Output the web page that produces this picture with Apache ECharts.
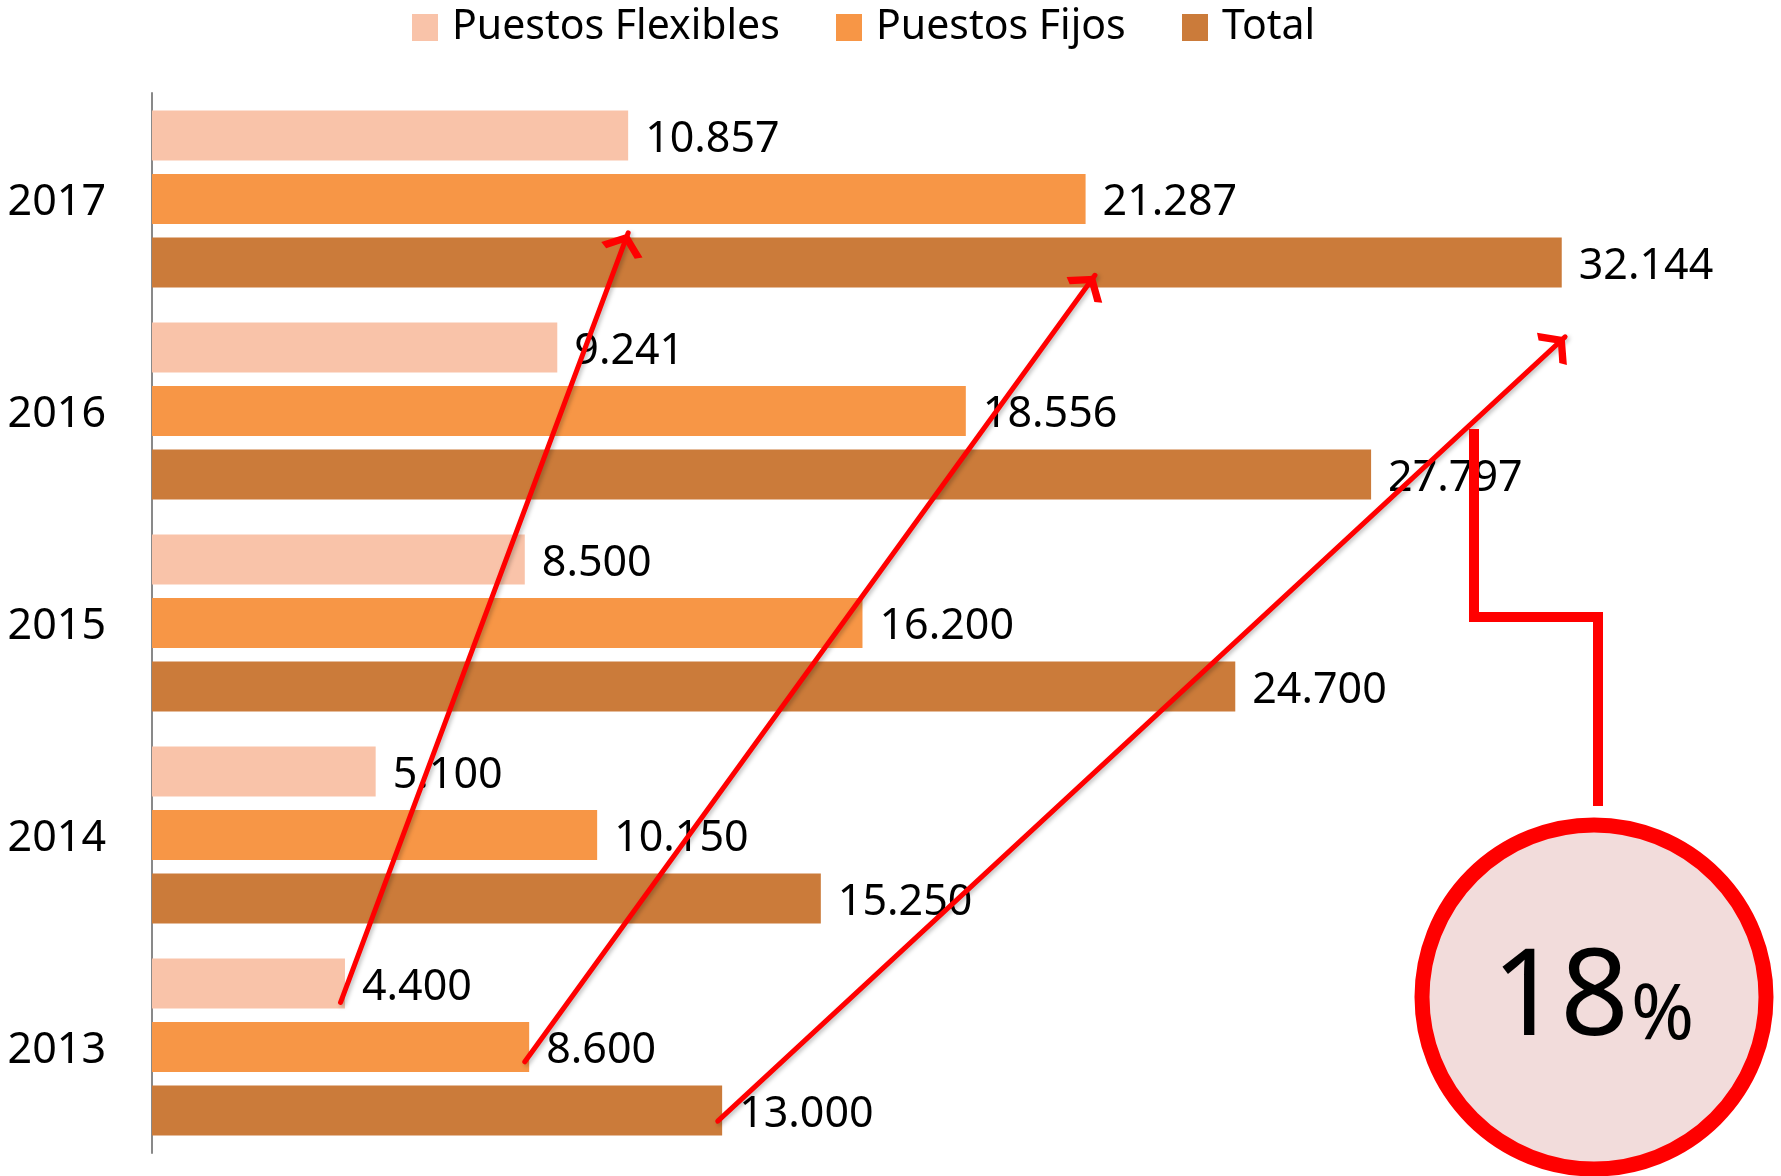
<!DOCTYPE html>
<html>
<head>
<meta charset="utf-8">
<title>Puestos</title>
<script src="https://cdn.jsdelivr.net/npm/echarts@6/dist/echarts.min.js"></script>
<style>
  html, body { margin: 0; padding: 0; background: #fff; }
  #chart { width: 1781px; height: 1176px; }
</style>
</head>
<body>
<div id="chart"></div>
<script>
const years = ['2013', '2014', '2015', '2016', '2017']
const seriesNames = ['Puestos Flexibles', 'Puestos Fijos', 'Total']
const flexibles = [4400, 5100, 8500, 9241, 10857]
const fijos = [8600, 10150, 16200, 18556, 21287]
const total = [13000, 15250, 24700, 27797, 32144]
const growthText = '18'

// arrows: from the 2013 bar end to the 2017 value (row positions in category units)
const arrowStartRow = [0.71, 0.43, 0.15]
const arrowEndRow = [4.34, 4.14, 3.85]
const arrowEndX = [10857, 21500, 32220]

const colors = ['#F9C3A9', '#F79646', '#CB7B3A']
const font = 'Noto Sans'
const fmt = v => String(v).replace(/\B(?=(\d{3})+(?!\d))/g, '.')

const allValues = [flexibles, fijos, total]
const arrows = allValues.map((vals, i) => ({
  coords: [[vals[0] - 100, arrowStartRow[i]], [arrowEndX[i], arrowEndRow[i]]]
}))

// open arrow head, tip at the centre of its box
const arrowHead = 'path://M0,-22 L0.01,-22 Z M0,0 L13,17 L9,21 L0,9 L-9,21 L-13,17 Z'

const myChart = echarts.init(document.getElementById('chart'))
myChart.setOption({
  animation: false,
  legend: seriesNames.map((n, i) => ({
    data: [n],
    left: [412, 836, 1182][i],
    top: 7,
    padding: 0,
    itemWidth: 26,
    itemHeight: 27,
    icon: 'rect',
    textStyle: { fontFamily: font, fontSize: 41, color: '#000', padding: [0, 0, 0, 9] }
  })),
  grid: {
    left: 152,
    right: 94,
    top: 93,
    bottom: 23,
    outerBoundsMode: 'none'
  },
  xAxis: [{
    type: 'value',
    min: 0,
    max: 35000,
    show: false,
    splitLine: { show: false }
  }],
  yAxis: [{
    type: 'category',
    data: years,
    axisLine: { show: true, lineStyle: { color: '#898989', width: 2 } },
    axisTick: { show: false },
    axisLabel: {
      fontFamily: font, fontSize: 43, color: '#000', margin: 46,
      verticalAlign: 'top', lineHeight: 8
    }
  }, {
    // helper axis for the arrows
    type: 'value',
    min: 0,
    max: 5,
    show: false,
    splitLine: { show: false }
  }],
  series: [
    ...allValues.map((vals, i) => ({
      name: seriesNames[i],
      type: 'bar',
      data: vals,
      itemStyle: { color: colors[i] },
      barGap: '27%',
      barCategoryGap: '16.5%',
      label: {
        show: true,
        position: 'right',
        distance: 17,
        offset: [0, 4],
        fontFamily: font,
        fontSize: 43,
        color: '#000',
        formatter: p => fmt(p.value)
      }
    })),
    {
      type: 'lines',
      coordinateSystem: 'cartesian2d',
      xAxisIndex: 0,
      yAxisIndex: 1,
      z: 5,
      symbol: ['none', arrowHead],
      symbolSize: [26, 44],
      lineStyle: {
        color: '#FF0000', width: 5, opacity: 1, curveness: 0, cap: 'round',
        shadowColor: 'rgba(0,0,0,0.25)', shadowBlur: 4, shadowOffsetX: 2, shadowOffsetY: 2
      },
      itemStyle: { color: '#FF0000' },
      data: arrows
    }
  ],
  graphic: [
    {
      type: 'polyline',
      z: 10,
      shape: { points: [[1474, 429], [1474, 617], [1598, 617], [1598, 806]] },
      style: { stroke: '#FF0000', lineWidth: 10, fill: null, lineJoin: 'miter' }
    },
    {
      type: 'circle',
      z: 10,
      shape: { cx: 1594, cy: 997, r: 172 },
      style: { fill: '#F2DCDB', stroke: '#FF0000', lineWidth: 15 }
    },
    {
      type: 'text',
      z: 11,
      x: 1629,
      y: 1001,
      style: { text: growthText, font: '120px "Noto Sans"', fill: '#000', align: 'right', verticalAlign: 'middle' }
    },
    {
      type: 'text',
      z: 11,
      x: 1631,
      y: 1017,
      style: { text: '%', font: '76px "Noto Sans"', fill: '#000', align: 'left', verticalAlign: 'middle' }
    }
  ]
})
window.addEventListener('resize', () => { myChart.resize() })
</script>
</body>
</html>
